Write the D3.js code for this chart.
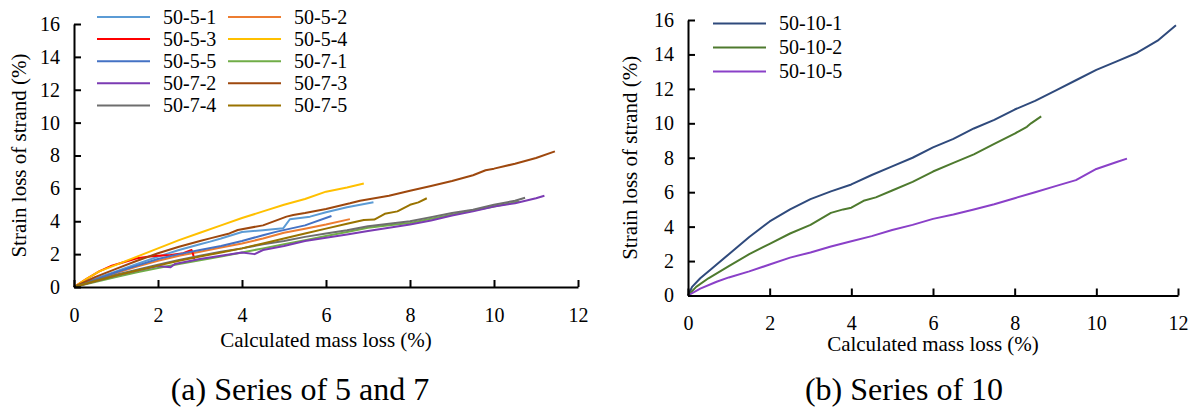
<!DOCTYPE html>
<html>
<head>
<meta charset="utf-8">
<script src="https://cdn.jsdelivr.net/npm/d3@7"></script>
<style>
  html, body { margin: 0; padding: 0; background: #fff; }
  svg { display: block; }
</style>
</head>
<body>
<svg id="fig" width="1196" height="409"></svg>
<script>
// ---- Panel (a): series of 5 and 7 — [calculated mass loss %, strain loss %]
const s50_5_1 = [[0,0],[0.5,0.5],[1,0.95],[1.5,1.4],[2,1.85],[2.5,2.25],[3,2.6],[3.24,2.76],[3.5,2.95],[4,3.35],[4.5,3.45],[4.98,3.57],[5.14,4.12],[5.62,4.28],[6,4.55],[6.5,4.85],[7.13,5.15]];
const s50_5_2 = [[0,0],[0.5,0.45],[1,0.85],[1.5,1.25],[2,1.6],[2.5,1.9],[3,2.15],[3.5,2.4],[4,2.65],[4.5,2.95],[5,3.3],[5.5,3.55],[6,3.8],[6.57,4.13]];
const s50_5_3 = [[0,0],[0.3,0.5],[0.6,0.95],[0.9,1.3],[1.1,1.45],[1.3,1.6],[1.5,1.75],[1.8,1.85],[2.0,1.9],[2.3,1.95],[2.6,2.05],[2.8,2.25],[2.84,1.95],[2.86,1.7]];
const s50_5_4 = [[0,0],[0.3,0.5],[0.6,0.95],[1,1.35],[1.5,1.85],[2,2.35],[2.5,2.85],[3,3.3],[3.5,3.75],[4,4.2],[4.5,4.6],[5,5.0],[5.5,5.35],[6,5.8],[6.5,6.05],[6.9,6.3]];
const s50_5_5 = [[0,0],[0.5,0.45],[1,0.9],[1.5,1.3],[2,1.7],[2.5,2.0],[3,2.25],[3.5,2.5],[4,2.8],[4.5,3.15],[4.83,3.37],[5.5,3.75],[6.13,4.32]];
const s50_7_1 = [[0,0],[0.5,0.3],[1,0.6],[1.5,0.9],[2,1.15],[2.5,1.4],[3,1.62],[3.5,1.85],[4,2.1],[4.5,2.35],[5,2.6],[5.5,2.85],[6,3.1],[6.5,3.35],[7,3.6],[7.5,3.75],[8,3.9],[8.5,4.15],[9,4.4],[9.5,4.65],[10,4.9],[10.5,5.15],[10.6,5.2]];
const s50_7_2 = [[0,0],[0.5,0.35],[1,0.7],[1.5,1.0],[2,1.28],[2.3,1.2],[2.4,1.4],[3,1.7],[3.5,1.9],[4,2.1],[4.3,2.0],[4.5,2.25],[5,2.5],[5.5,2.8],[6,3.0],[6.5,3.2],[7,3.4],[7.5,3.6],[8,3.8],[8.5,4.05],[9,4.35],[9.5,4.6],[10,4.9],[10.5,5.1],[11,5.4],[11.2,5.55]];
const s50_7_3 = [[0,0],[0.5,0.6],[1,1.1],[1.5,1.6],[2,2.05],[2.5,2.45],[3,2.8],[3.24,2.96],[3.7,3.26],[3.9,3.47],[4.5,3.75],[5.06,4.28],[5.22,4.38],[5.5,4.5],[6,4.75],[6.57,5.09],[6.81,5.25],[7.5,5.55],[8,5.86],[8.5,6.15],[9,6.45],[9.5,6.8],[9.8,7.1],[10,7.2],[10.5,7.5],[11,7.85],[11.45,8.25]];
const s50_7_4 = [[0,0],[0.5,0.4],[1,0.75],[1.5,1.05],[2,1.35],[2.5,1.65],[3,1.9],[3.5,2.15],[4,2.35],[4.5,2.6],[5,2.8],[5.5,3.05],[6,3.25],[6.5,3.45],[7,3.7],[7.5,3.85],[8,4.0],[8.5,4.25],[9,4.5],[9.5,4.7],[10,5.0],[10.5,5.25],[10.74,5.43]];
const s50_7_5 = [[0,0],[0.5,0.35],[1,0.7],[1.5,1.0],[2,1.3],[2.5,1.6],[3,1.85],[3.5,2.1],[4,2.35],[4.5,2.65],[5,2.95],[5.5,3.25],[6,3.55],[6.5,3.85],[6.9,4.08],[7.15,4.1],[7.4,4.45],[7.7,4.6],[8,5.0],[8.2,5.15],[8.4,5.4]];

const namesA = ["50-5-1","50-5-2","50-5-3","50-5-4","50-5-5","50-7-1","50-7-2","50-7-3","50-7-4","50-7-5"];
const dataA = [s50_5_1,s50_5_2,s50_5_3,s50_5_4,s50_5_5,s50_7_1,s50_7_2,s50_7_3,s50_7_4,s50_7_5];
const colorsA = ["#5B9BD5","#ED7D31","#FF0000","#FFC000","#4472C4","#70AD47","#7B3BB3","#9E480E","#6E6E6E","#997300"];

// ---- Panel (b): series of 10
const s50_10_1 = [[0,0],[0.1,0.5],[0.3,1.0],[0.6,1.6],[1,2.4],[1.5,3.4],[2,4.3],[2.5,5.0],[3,5.6],[3.5,6.05],[4,6.45],[4.5,7.0],[5,7.5],[5.5,8.0],[6,8.6],[6.5,9.1],[7,9.7],[7.5,10.2],[8,10.8],[8.5,11.3],[9,11.9],[9.5,12.5],[10,13.1],[10.5,13.6],[11,14.1],[11.5,14.8],[11.95,15.7]];
const s50_10_2 = [[0,0],[0.2,0.5],[0.5,1.0],[1,1.7],[1.5,2.4],[2,3.0],[2.5,3.6],[3,4.1],[3.5,4.8],[3.8,5.0],[4,5.1],[4.3,5.5],[4.6,5.7],[5,6.1],[5.5,6.6],[6,7.2],[6.5,7.7],[7,8.2],[7.5,8.8],[8,9.4],[8.3,9.8],[8.4,10.0],[8.65,10.4]];
const s50_10_5 = [[0,0],[0.3,0.4],[0.7,0.8],[1,1.05],[1.5,1.4],[2,1.8],[2.5,2.2],[3,2.5],[3.5,2.85],[4,3.15],[4.5,3.45],[5,3.8],[5.5,4.1],[6,4.45],[6.5,4.7],[7,5.0],[7.5,5.3],[8,5.65],[8.5,6.0],[9,6.35],[9.5,6.7],[10,7.35],[10.5,7.75],[10.75,7.95]];

const namesB = ["50-10-1","50-10-2","50-10-5"];
const dataB = [s50_10_1,s50_10_2,s50_10_5];
const colorsB = ["#2F4A7C","#4E7A2E","#8A40C8"];

// Shared axis ticks
const xTicks = [0,2,4,6,8,10,12];
const yTicks = [0,2,4,6,8,10,12,14,16];
const xTitle = "Calculated mass loss (%)";
const yTitle = "Strain loss of strand (%)";

const SERIF = "'Liberation Serif', 'Times New Roman', 'DejaVu Serif', serif";

const svg = d3.select("#fig").attr("font-family", SERIF);
svg.append("rect").attr("width",1196).attr("height",409).attr("fill","#fff");

function styleAxis(sel) {
  sel.attr("font-family", SERIF).attr("font-size", 20);
  sel.selectAll("path, line").attr("stroke","#000").attr("stroke-width",2);
  sel.selectAll("text").attr("fill","#000").attr("font-family", SERIF).attr("font-size", 20);
}

function panel(cfg) {
  const x = d3.scaleLinear().domain([0,12]).range([cfg.x0, cfg.x1]);
  const y = d3.scaleLinear().domain([0,16]).range([cfg.y0, cfg.y1]);
  const g = svg.append("g");

  const line = d3.line().x(d => x(d[0])).y(d => y(d[1]));
  g.selectAll("path.series").data(cfg.data).join("path")
    .attr("class","series")
    .attr("d", line)
    .attr("fill","none")
    .attr("stroke",(d,i) => cfg.colors[i])
    .attr("stroke-width",2)
    .attr("stroke-linejoin","round");

  g.append("g")
    .attr("transform",`translate(0,${cfg.y0})`)
    .call(d3.axisBottom(x).tickValues(xTicks).tickFormat(d3.format("d"))
      .tickSizeInner(-7).tickSizeOuter(0).tickPadding(20.5))
    .call(styleAxis);

  g.append("g")
    .attr("transform",`translate(${cfg.x0},0)`)
    .call(d3.axisLeft(y).tickValues(yTicks).tickFormat(d3.format("d"))
      .tickSizeInner(-7).tickSizeOuter(0).tickPadding(14))
    .call(styleAxis);

  g.append("text")
    .attr("x",(cfg.x0+cfg.x1)/2).attr("y",cfg.xTitleY)
    .attr("text-anchor","middle").attr("font-size",21).attr("font-family",SERIF)
    .text(xTitle);

  g.append("text")
    .attr("transform",`translate(${cfg.yTitleX},${(cfg.y0+cfg.y1)/2}) rotate(-90)`)
    .attr("text-anchor","middle").attr("font-size",21).attr("font-family",SERIF)
    .text(yTitle);

  g.append("text")
    .attr("x",cfg.capX).attr("y",400)
    .attr("text-anchor","middle").attr("font-size",32).attr("font-family",SERIF)
    .text(cfg.caption);

  // legend
  const leg = g.append("g");
  cfg.names.forEach((n,i) => {
    const col = i % cfg.cols, row = Math.floor(i / cfg.cols);
    const lx = cfg.legX + col*cfg.legColW, ly = cfg.legY + row*cfg.legRowH;
    leg.append("line").attr("x1",lx).attr("x2",lx+53).attr("y1",ly).attr("y2",ly)
      .attr("stroke",cfg.colors[i]).attr("stroke-width",2);
    leg.append("text").attr("x",lx+66).attr("y",ly).attr("dy","0.34em")
      .attr("font-size",20).attr("font-family",SERIF).text(n);
  });
}

panel({x0:74, x1:578, y0:287, y1:24, data:dataA, colors:colorsA, names:namesA,
  xTitleY:347, yTitleX:26, capX:300, caption:"(a) Series of 5 and 7",
  cols:2, legX:97, legY:17, legColW:131, legRowH:22.1});

panel({x0:688, x1:1178, y0:295.5, y1:20, data:dataB, colors:colorsB, names:namesB,
  xTitleY:351, yTitleX:637, capX:904, caption:"(b) Series of 10",
  cols:1, legX:713, legY:23.5, legColW:0, legRowH:24});
</script>
</body>
</html>
